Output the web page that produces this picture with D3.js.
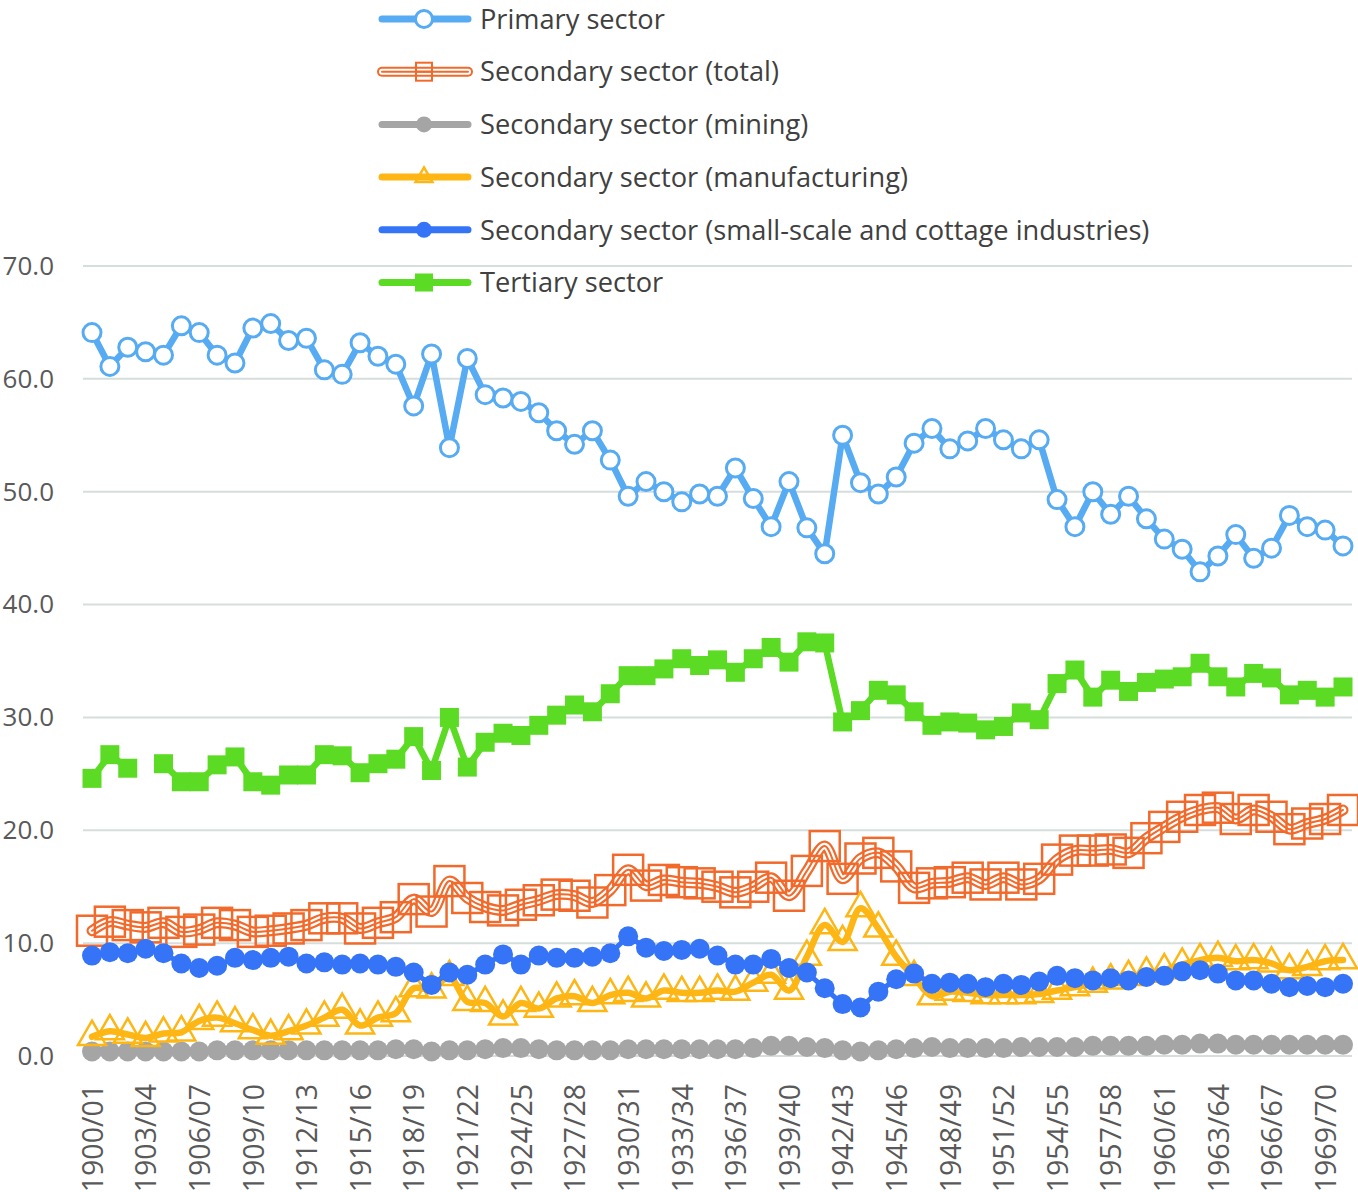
<!DOCTYPE html>
<html>
<head>
<meta charset="utf-8">
<script src="https://cdn.jsdelivr.net/npm/d3@7"></script>
<style>
  body { margin: 0; background: #fff; }
  text { font-family: "Open Sans", sans-serif; }
</style>
</head>
<body>
<svg id="chart" width="1358" height="1192"></svg>
<script>
// fiscal years on the x axis
const categories = [
  "1900/01","1901/02","1902/03","1903/04","1904/05","1905/06","1906/07","1907/08","1908/09","1909/10",
  "1910/11","1911/12","1912/13","1913/14","1914/15","1915/16","1916/17","1917/18","1918/19","1919/20",
  "1920/21","1921/22","1922/23","1923/24","1924/25","1925/26","1926/27","1927/28","1928/29","1929/30",
  "1930/31","1931/32","1932/33","1933/34","1934/35","1935/36","1936/37","1937/38","1938/39","1939/40",
  "1940/41","1941/42","1942/43","1943/44","1944/45","1945/46","1946/47","1947/48","1948/49","1949/50",
  "1950/51","1951/52","1952/53","1953/54","1954/55","1955/56","1956/57","1957/58","1958/59","1959/60",
  "1960/61","1961/62","1962/63","1963/64","1964/65","1965/66","1966/67","1967/68","1968/69","1969/70",
  "1970/71"
];
const tickLabels = ["1900/01","1903/04","1906/07","1909/10","1912/13","1915/16","1918/19","1921/22",
  "1924/25","1927/28","1930/31","1933/34","1936/37","1939/40","1942/43","1945/46","1948/49",
  "1951/52","1954/55","1957/58","1960/61","1963/64","1966/67","1969/70"];
const yTicks = [0, 10, 20, 30, 40, 50, 60, 70];

const primary = [64.1,61.1,62.8,62.4,62.1,64.7,64.1,62.1,61.4,64.5,
  64.9,63.4,63.6,60.8,60.4,63.2,62.0,61.3,57.6,62.2,
  53.9,61.8,58.6,58.3,58.0,57.0,55.4,54.2,55.4,52.8,
  49.6,50.9,50.0,49.1,49.8,49.6,52.1,49.4,46.9,50.9,
  46.8,44.5,55.0,50.8,49.8,51.3,54.3,55.6,53.8,54.5,
  55.6,54.6,53.8,54.6,49.3,46.9,50.0,48.0,49.6,47.6,
  45.8,44.9,42.9,44.3,46.2,44.1,45.0,47.9,46.9,46.6,
  45.2];
const secondaryTotal = [11.1,11.9,11.6,11.4,11.8,11.0,11.2,11.8,11.6,11.0,
  11.1,11.3,11.6,12.2,12.2,11.3,11.8,12.3,13.9,12.8,
  15.5,14.0,13.2,12.9,13.4,13.8,14.3,14.2,13.6,14.7,
  16.5,15.1,15.6,15.4,15.3,15.0,14.5,15.0,15.8,14.2,
  16.4,18.6,15.7,17.5,18.0,16.8,14.9,15.3,15.4,15.8,
  15.2,15.8,15.2,15.7,17.4,18.2,18.2,18.3,18.0,19.3,
  20.3,21.2,21.8,22.0,21.0,21.8,21.2,20.1,20.6,21.0,
  21.8];
const mining = [0.4,0.4,0.4,0.4,0.4,0.4,0.4,0.5,0.5,0.5,
  0.5,0.5,0.5,0.5,0.5,0.5,0.5,0.6,0.6,0.4,
  0.5,0.5,0.6,0.7,0.7,0.6,0.5,0.5,0.5,0.5,
  0.6,0.6,0.6,0.6,0.6,0.6,0.6,0.7,0.9,0.9,
  0.8,0.7,0.5,0.4,0.5,0.6,0.7,0.8,0.7,0.7,
  0.7,0.7,0.8,0.8,0.8,0.8,0.9,0.9,0.9,0.9,
  1.0,1.0,1.1,1.1,1.0,1.0,1.0,1.0,1.0,1.0,
  1.0];
const manufacturing = [1.7,2.2,1.9,1.6,2.0,2.1,3.1,3.4,2.9,2.3,
  1.8,2.2,2.7,3.4,4.1,2.7,3.4,3.8,6.0,5.9,
  7.0,4.8,4.7,3.5,4.7,4.2,5.1,5.3,4.7,5.4,
  5.6,5.1,5.8,5.6,5.6,5.8,5.7,6.5,7.2,5.8,
  8.8,11.6,10.1,13.1,11.3,8.8,7.0,5.3,5.7,5.6,
  5.4,5.4,5.4,5.5,5.8,6.1,6.4,6.7,7.0,7.3,
  7.6,8.1,8.5,8.7,8.4,8.5,8.2,7.6,7.9,8.4,
  8.5];
const cottage = [8.9,9.2,9.1,9.5,9.1,8.2,7.8,8.0,8.7,8.5,
  8.7,8.8,8.2,8.3,8.1,8.2,8.1,7.9,7.4,6.3,
  7.4,7.2,8.1,9.0,8.1,8.9,8.7,8.7,8.8,9.1,
  10.6,9.6,9.3,9.4,9.5,8.9,8.1,8.1,8.6,7.8,
  7.4,6.0,4.6,4.3,5.7,6.8,7.3,6.4,6.5,6.4,
  6.1,6.4,6.3,6.6,7.1,6.9,6.7,6.9,6.7,7.0,
  7.1,7.5,7.6,7.3,6.7,6.7,6.4,6.1,6.2,6.1,
  6.4];
const tertiary = [24.6,26.7,25.5,null,25.9,24.3,24.3,25.8,26.5,24.3,
  24.0,24.9,24.9,26.7,26.6,25.1,25.9,26.3,28.3,25.3,
  30.0,25.6,27.8,28.6,28.4,29.3,30.2,31.1,30.5,32.1,
  33.7,33.7,34.3,35.2,34.6,35.1,34.0,35.2,36.2,34.9,
  36.7,36.6,29.6,30.6,32.4,32.0,30.5,29.3,29.6,29.5,
  28.9,29.2,30.4,29.8,33.0,34.2,31.8,33.3,32.3,33.1,
  33.4,33.6,34.8,33.6,32.7,33.9,33.5,32.0,32.4,31.8,
  32.7];

const seriesNames = [
  "Primary sector",
  "Secondary sector (total)",
  "Secondary sector (mining)",
  "Secondary sector (manufacturing)",
  "Secondary sector (small-scale and cottage industries)",
  "Tertiary sector"
];

const series = [
  { name: seriesNames[0], values: primary, color: "#56abf2", marker: "ring" },
  { name: seriesNames[1], values: secondaryTotal, color: "#f26a2b", marker: "box", curve: true },
  { name: seriesNames[2], values: mining, color: "#a5a5a5", marker: "dot" },
  { name: seriesNames[3], values: manufacturing, color: "#fdb614", marker: "tri", curve: true },
  { name: seriesNames[4], values: cottage, color: "#3574f6", marker: "dot" },
  { name: seriesNames[5], values: tertiary, color: "#5cdb24", marker: "sq" }
];

const svg = d3.select("#chart");

const x = d3.scalePoint().domain(categories).range([92, 1343]);
const y = d3.scaleLinear().domain([0, 70]).range([1056, 266]);

// gridlines
svg.append("g")
  .selectAll("line")
  .data(yTicks)
  .join("line")
  .attr("x1", 83).attr("x2", 1352)
  .attr("y1", d => y(d)).attr("y2", d => y(d))
  .attr("stroke", "#d5dedb")
  .attr("stroke-width", 2);

// y axis labels
const yAxis = svg.append("g")
  .attr("transform", "translate(54,0)")
  .call(d3.axisLeft(y).tickValues(yTicks).tickFormat(d3.format(".1f")).tickSize(0).tickPadding(0));
yAxis.select(".domain").remove();
yAxis.selectAll("text")
  .attr("fill", "#595959")
  .style("font-size", "26px")
  .style("font-family", "'Open Sans', sans-serif");

// x axis labels, rotated
const xAxis = svg.append("g")
  .attr("transform", "translate(0,1056)")
  .call(d3.axisBottom(x).tickValues(tickLabels).tickSize(0));
xAxis.select(".domain").remove();
xAxis.selectAll("text")
  .attr("fill", "#595959")
  .style("font-size", "28.5px")
  .style("font-family", "'Open Sans', sans-serif")
  .attr("transform", "rotate(-90)")
  .attr("text-anchor", "end")
  .attr("x", -28)
  .attr("y", 0)
  .attr("dy", "0.36em");

const plot = svg.append("g");

function drawMarker(sel, kind, color, scale) {
  const k = scale || 1;
  if (kind === "ring") {
    sel.append("circle").attr("r", 9 * k)
      .attr("fill", "#fff").attr("stroke", color).attr("stroke-width", 3);
  } else if (kind === "dot") {
    sel.append("circle").attr("r", 10 * k).attr("fill", color);
  } else if (kind === "sq") {
    const s = 19 * k;
    sel.append("rect").attr("x", -s / 2).attr("y", -s / 2).attr("width", s).attr("height", s)
      .attr("fill", color);
  } else if (kind === "box") {
    const s = 30 * k;
    sel.append("rect").attr("x", -s / 2).attr("y", -s / 2).attr("width", s).attr("height", s)
      .attr("fill", "none").attr("stroke", color).attr("stroke-width", 2.5);
  } else if (kind === "tri") {
    const w = 28 * k;
    sel.append("path")
      .attr("d", d3.symbol().type(d3.symbolTriangle).size(Math.sqrt(3) / 4 * w * w)())
      .attr("fill", "none").attr("stroke", color).attr("stroke-width", 2.5);
  }
}

series.forEach(s => {
  const pts = s.values.map((v, i) => ({ cat: categories[i], v }));
  const line = d3.line()
    .defined(d => d.v !== null)
    .x(d => x(d.cat))
    .y(d => y(d.v))
    .curve(s.curve ? d3.curveCatmullRom.alpha(0.5) : d3.curveLinear);
  const g = plot.append("g");
  const valid = pts.filter(d => d.v !== null);

  if (s.marker === "box") {
    // compound (triple) line under hollow squares
    [[11, s.color], [6.5, "#fff"], [2, s.color]].forEach(([w, c]) => {
      g.append("path").datum(pts).attr("d", line)
        .attr("fill", "none").attr("stroke", c).attr("stroke-width", w)
        .attr("stroke-linejoin", "round").attr("stroke-linecap", "round");
    });
  } else {
    g.append("path").datum(pts).attr("d", line)
      .attr("fill", "none").attr("stroke", s.color)
      .attr("stroke-width", s.marker === "dot" ? 5 : 6.5)
      .attr("stroke-linejoin", "round").attr("stroke-linecap", "round");
  }
  g.selectAll("g.mk").data(valid).join("g")
    .attr("class", "mk")
    .attr("transform", d => `translate(${x(d.cat)},${y(d.v)})`)
    .each(function () { drawMarker(d3.select(this), s.marker, s.color); });
});

// legend
const legend = svg.append("g");
const rows = legend.selectAll("g").data(series).join("g")
  .attr("transform", (d, i) => `translate(378,${19 + i * 52.7})`);
rows.each(function (s) {
  const r = d3.select(this);
  if (s.marker === "box") {
    [[10, s.color], [6, "#fff"], [2, s.color]].forEach(([w, c]) => {
      r.append("line").attr("x1", 4).attr("x2", 90)
        .attr("stroke", c).attr("stroke-width", w).attr("stroke-linecap", "round");
    });
    r.append("rect").attr("x", 38).attr("y", -9).attr("width", 16).attr("height", 18)
      .attr("fill", "none").attr("stroke", s.color).attr("stroke-width", 2);
    r.append("line").attr("x1", 38).attr("x2", 54).attr("y1", 0).attr("y2", 0)
      .attr("stroke", s.color).attr("stroke-width", 2);
  } else {
    r.append("line").attr("x1", 4).attr("x2", 90)
      .attr("stroke", s.color).attr("stroke-width", 7).attr("stroke-linecap", "round");
    const m = r.append("g").attr("transform", "translate(46,0)");
    if (s.marker === "tri") drawMarker(m, "tri", s.color, 0.6);
    else if (s.marker === "dot") drawMarker(m, "dot", s.color, 0.8);
    else drawMarker(m, s.marker, s.color, 0.95);
  }
  r.append("text").attr("x", 102).attr("dy", "0.36em")
    .attr("fill", "#404040").style("font-size", "27.2px")
    .text(s.name);
});
</script>
</body>
</html>
